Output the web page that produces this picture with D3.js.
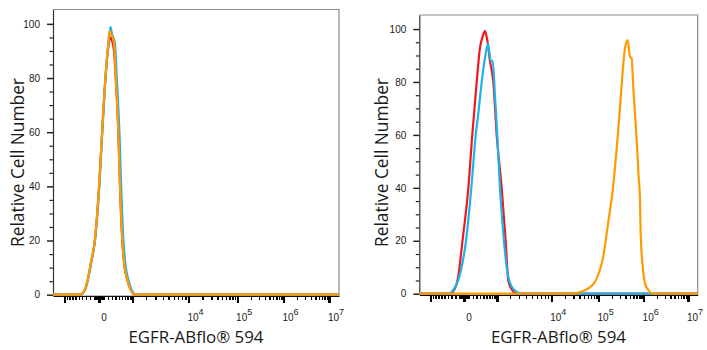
<!DOCTYPE html>
<html><head><meta charset="utf-8">
<script src="https://cdn.jsdelivr.net/npm/d3@7"></script>
<style>html,body{margin:0;padding:0;background:#fff;} svg{display:block}</style>
</head><body>
<svg id="chart" width="707" height="350"></svg>
<script>
// ---------- data ----------
const yTickValues = [0, 20, 40, 60, 80, 100];
const xMajorTicks = [-1000, 0, 1000, 1e4, 1e5, 1e6, 1e7];
const xLabelValues = [0, 1e4, 1e5, 1e6, 1e7];
const xLabelBase = ["0", "10", "10", "10", "10"];
const xLabelExp = ["", "4", "5", "6", "7"];
const xTitle = "EGFR-ABflo\u00AE 594";
const yTitle = "Relative Cell Number";

// left panel (three overlapping histograms)
const L_red_x = [-2000, -460, -322, -262, -172, -88, 2, 66, 140, 205, 255, 300, 360, 409, 486, 538, 612, 670, 801, 928, 1139, 1.7e7];
const L_red_y = [0, 0, 2, 5, 12, 20, 40, 60, 80, 91, 95, 94, 90, 80, 60, 40, 20, 12, 5, 1.5, 0, 0];
const L_cyan_x = [-2000, -450, -315, -255, -168, -85, 5, 68, 142, 208, 266, 300, 385, 440, 520, 575, 650, 710, 840, 970, 1200, 1.7e7];
const L_cyan_y = [0, 0, 2, 5, 12, 20, 40, 60, 80, 92, 98.8, 96.5, 92.8, 80, 60, 40, 20, 12, 5, 1.5, 0, 0];
const L_orange_x = [-2000, -463, -324, -264, -174, -90, 0, 64, 138, 203, 240, 285, 360, 409, 486, 538, 612, 670, 801, 928, 1139, 1.7e7];
const L_orange_y = [0, 0, 2, 5, 12, 20, 40, 60, 80, 92, 97.3, 96.3, 92.8, 80, 60, 40, 20, 12, 5, 1.5, 0, 0];

// right panel
const R_red_x = [-2000, -336, -206, -134, -34, 93, 188, 304, 398, 473, 553, 630, 725, 850, 988, 1318, 1627, 1851, 2202, 2713, 1.7e7];
const R_red_y = [0, 0, 2, 6, 20, 40, 60, 80, 93, 97, 99.2, 95.8, 88, 80, 60, 40, 20, 5, 1.5, 0, 0];
const R_cyan_x = [-2000, -384, -249, -127, -51, 41, 164, 277, 349, 449, 553, 654, 751, 826, 917, 1019, 1197, 1437, 1712, 2173, 2902, 3566, 1.7e7];
const R_cyan_y = [0, 0, 1.4, 5.2, 10.2, 20, 40, 60, 68, 80, 89, 94.5, 88, 88, 75, 60, 40, 23, 10, 2.6, 0.4, 0, 0];
const R_orange_x = [-2000, 29840, 44770, 61290, 84330, 103660, 127200, 151500, 179400, 208900, 243800, 274200, 309800, 342800, 385400, 442400, 497400, 542900, 588300, 642100, 700500, 767900, 828400, 857500, 950800, 1069900, 1270000, 1647000, 1.7e7];
const R_orange_y = [0, 0, 0.8, 2, 4.5, 8.3, 14, 22.8, 31.5, 40, 52, 62, 74, 84, 92.7, 95.8, 89.5, 88.9, 78, 68, 58, 45, 35.4, 22.8, 10.2, 3.9, 1.4, 0, 0];

// ---------- layout ----------
const xBreaks = [-2000, -1000, 0, 1e3, 1e4, 1e5, 1e6, 1e7, 1.7e7];
const xBreakFrac = [0, 0.040, 0.161, 0.279, 0.474, 0.644, 0.806, 0.965, 1];
const colors = { red: "#f01820", cyan: "#1cb4e8", orange: "#ff9a00" };

const panels = [
  { x0: 53, x1: 339, yt: 9.5, yb: 294.7, titleX: 17, series: [
      [L_red_x, L_red_y, colors.red], [L_cyan_x, L_cyan_y, colors.cyan], [L_orange_x, L_orange_y, colors.orange]] },
  { x0: 419.3, x1: 697.7, yt: 15, yb: 293.7, titleX: 381.5, series: [
      [R_red_x, R_red_y, colors.red], [R_cyan_x, R_cyan_y, colors.cyan], [R_orange_x, R_orange_y, colors.orange]] }
];

const svg = d3.select("#chart");
const tickFont = "'Liberation Sans', Arial, sans-serif";
const titleFont = "'Open Sans', 'Noto Sans', sans-serif";

// minor tick values
const xMinor = [];
for (let k = 1; k <= 9; k++) { xMinor.push(-k * 100, k * 100, -k * 10, k * 10); }
for (let e = 3; e <= 6; e++) for (let k = 2; k <= 9; k++) xMinor.push(k * Math.pow(10, e));
const yMinor = d3.range(5, 105, 5).filter(v => v % 20 !== 0);

function fitText(sel, target) {
  const len = sel.node().getComputedTextLength();
  const fs = parseFloat(sel.attr("font-size"));
  sel.attr("font-size", (fs * target / len).toFixed(2));
}

panels.forEach(p => {
  const g = svg.append("g");
  const x = d3.scaleSymlog().constant(1000)
    .domain(xBreaks)
    .range(xBreakFrac.map(f => p.x0 + f * (p.x1 - p.x0)));
  const y = d3.scaleLinear().domain([0, 105.3]).range([p.yb, p.yt]);

  // frame (top + right)
  g.append("path")
    .attr("d", `M${p.x0},${p.yt}H${p.x1}V${y(0) + 1}`)
    .attr("fill", "none").attr("stroke", "#8c8c8c").attr("stroke-width", 1.2);

  // x axis
  const axY = y(0) + 1.2;
  const gxMinor = g.append("g").attr("transform", `translate(0,${axY})`)
    .call(d3.axisBottom(x).tickValues(xMinor).tickSize(4.5).tickSizeOuter(0).tickFormat(""));
  gxMinor.select(".domain").remove();
  gxMinor.selectAll(".tick line").attr("stroke", "#000").attr("stroke-width", 1.5)
    .attr("shape-rendering", "crispEdges");
  const gx = g.append("g").attr("transform", `translate(0,${axY})`)
    .call(d3.axisBottom(x).tickValues(xMajorTicks).tickSize(7).tickSizeOuter(0).tickFormat(""));
  gx.select(".domain").attr("stroke", "#111").attr("stroke-width", 1.3);
  gx.selectAll(".tick line").attr("stroke", "#000").attr("stroke-width", 2.3)
    .attr("shape-rendering", "crispEdges");

  // x tick labels
  xLabelValues.forEach((v, i) => {
    const t = g.append("text")
      .attr("x", x(v) + (v === 0 ? 5 : 7))
      .attr("y", 321)
      .attr("text-anchor", "middle")
      .attr("font-family", tickFont).attr("font-size", 10).attr("fill", "#1a1a1a");
    t.append("tspan").text(xLabelBase[i]);
    if (xLabelExp[i]) t.append("tspan").attr("dy", -6).attr("font-size", 9).text(xLabelExp[i]);
  });

  // y axis
  const gyMinor = g.append("g").attr("transform", `translate(${p.x0},0)`)
    .call(d3.axisLeft(y).tickValues(yMinor).tickSize(3.5).tickSizeOuter(0).tickFormat(""));
  gyMinor.select(".domain").remove();
  gyMinor.selectAll(".tick line").attr("stroke", "#222").attr("stroke-width", 1.2);
  const gy = g.append("g").attr("transform", `translate(${p.x0},0)`)
    .call(d3.axisLeft(y).tickValues(yTickValues).tickSize(6).tickSizeOuter(0).tickPadding(7));
  gy.select(".domain").attr("stroke", "#333").attr("stroke-width", 1.2);
  gy.selectAll(".tick line").attr("stroke", "#222").attr("stroke-width", 1.5);
  gy.selectAll(".tick text").attr("font-family", tickFont).attr("font-size", 10).attr("fill", "#1a1a1a");

  // curves
  const line = d3.line().x(d => x(d[0])).y(d => y(d[1])).curve(d3.curveMonotoneX);
  p.series.forEach(([xs, ys, c]) => {
    g.append("path").datum(xs.map((v, i) => [v, ys[i]]))
      .attr("d", line).attr("fill", "none").attr("stroke", c)
      .attr("stroke-width", 2.2).attr("stroke-linejoin", "round");
  });

  // titles
  const xt = g.append("text")
    .attr("x", (p.x0 + p.x1) / 2).attr("y", 342.5)
    .attr("text-anchor", "middle").attr("font-family", titleFont)
    .attr("font-size", 18).attr("fill", "#1a1a1a").text(xTitle);
  fitText(xt, 135);
  const yt = g.append("text")
    .attr("transform", `translate(${p.titleX + 6.5},162.5) rotate(-90)`)
    .attr("text-anchor", "middle").attr("font-family", titleFont)
    .attr("font-size", 18).attr("fill", "#1a1a1a").text(yTitle);
  fitText(yt, 169);
});
</script>
</body></html>
